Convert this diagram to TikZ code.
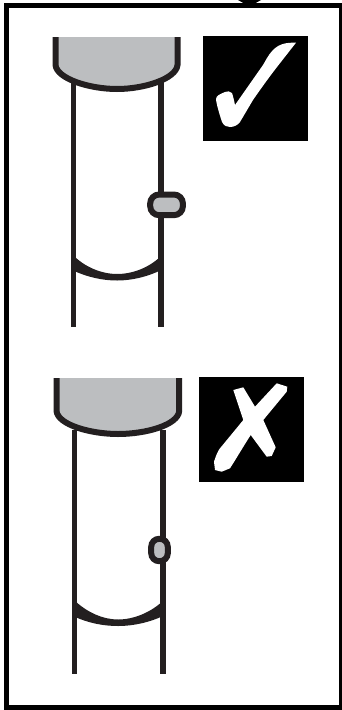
\documentclass[tikz,border=0pt]{standalone}
\definecolor{inkdark}{HTML}{231F20}
\definecolor{capgrey}{HTML}{BCBEC0}
\tikzset{
  tubeline/.style={draw=inkdark,line width=5.9pt},
  capline/.style={draw=inkdark,line width=6pt},
  capfill/.style={fill=capgrey},
  crescent/.style={fill=inkdark},
}
\begin{document}
\begin{tikzpicture}[x=1pt,y=-1pt]
\useasboundingbox (0,0) rectangle (341,710);

% Outer frame
\draw[line width=5.6pt] (6.6,5.6) rectangle (342,708);
\fill (238,0) -- (261,0) -- (256,2.8) -- (243,2.8) -- cycle;

% Upper tube
\draw[tubeline] (73.5,82) -- (73.5,327);
\draw[tubeline] (161,82) -- (161,327);
\fill[capfill] (55.5,37) -- (55.5,65) .. controls (57,79) and (90,89) .. (117,89) .. controls (144,89) and (176,79) .. (177.5,65) -- (177.5,37) -- cycle;
\draw[capline] (55.5,37) -- (55.5,65) .. controls (57,79) and (90,89) .. (117,89) .. controls (144,89) and (176,79) .. (177.5,65) -- (177.5,37);
\fill[crescent] (72,254) .. controls (85,268) and (103,274) .. (117,274) .. controls (132,274) and (150,268) .. (163,254) -- (163,269) .. controls (150,276) and (133,280.5) .. (117,280.5) .. controls (102,280.5) and (87,277) .. (72,270) -- cycle;

% Upper bump
\draw[capline,capfill,rounded corners=9pt] (150.2,194.5) rectangle (182.9,215.2);

% Check mark
\fill (203,36) rectangle (308,141);
\fill[white] (296,42.7) .. controls (288,42.5) and (280,43) .. (273,50) .. controls (268,55) and (265,62) .. (263,65) -- (235,105) .. controls (234,100) and (233,96) .. (232,93) .. controls (230,91) and (227,91) .. (225,92) .. controls (220,94) and (216,96) .. (216,99) .. controls (216,102) and (219,113) .. (222,122) .. controls (224,126) and (227,127) .. (230,127) .. controls (234,127) and (238,125) .. (240,122) -- (253,100) .. controls (262,87) and (270,76) .. (277,67) -- cycle;

% Lower tube
\draw[tubeline] (74.5,430) -- (74.5,674);
\draw[tubeline] (163,430) -- (163,674);
\fill[capfill] (56.5,378) -- (56.5,411) .. controls (58,425) and (91,434) .. (118,434) .. controls (146,434) and (178,425) .. (179.2,411) -- (179.2,378) -- cycle;
\draw[capline] (56.5,378) -- (56.5,411) .. controls (58,425) and (91,434) .. (118,434) .. controls (146,434) and (178,425) .. (179.2,411) -- (179.2,378);
\fill[crescent] (73,599) .. controls (87,613) and (104,619.5) .. (118,619.5) .. controls (133,619.5) and (151,613) .. (165,599) -- (165,615) .. controls (151,622) and (134,626) .. (118,626) .. controls (103,626) and (88,623) .. (73,616) -- cycle;

% Lower bump
\draw[capline,capfill,rounded corners=8pt] (151.2,538.8) rectangle (167.8,561.2);

% Cross mark
\fill (199,377) rectangle (304,482);
\fill[white] (233.3,390) -- (243.3,387.3) -- (255,406.7) -- (276.7,383.3) -- (287.3,386.7) -- (286.7,391.7) -- (263.3,420) -- (275.7,447.3) -- (271.7,456) -- (266.7,456.7) -- (250.7,435) .. controls (243,447) and (236,459) .. (230,468.3) -- (221.7,471.7) -- (215,470) -- (214,461.7) .. controls (216,455) and (219,449) .. (220,448.3) -- (243.3,420) -- cycle;

\end{tikzpicture}
\end{document}
